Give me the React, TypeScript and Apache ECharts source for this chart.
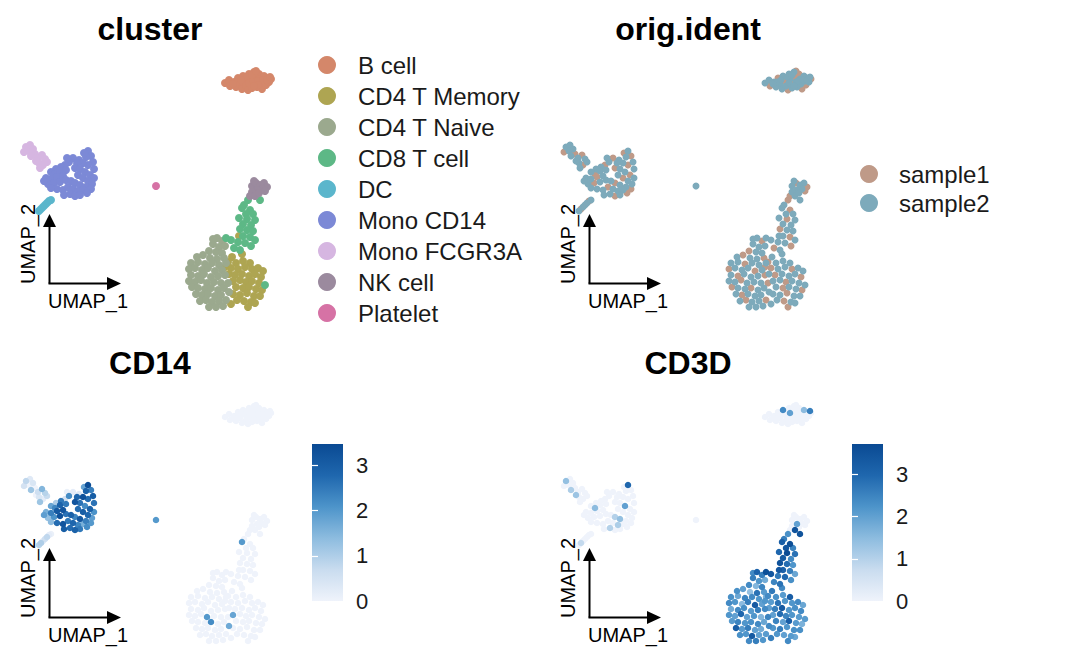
import React, { useEffect, useRef } from "react";
import * as echarts from "echarts";

// Each cell: [UMAP_1, UMAP_2, sample (1|2), CD14, CD3D]
const bCell = [
  [7.5,10.7,2,0,0],[7.9,11.0,2,0,0],[8.0,10.4,1,0,0],[8.4,10.8,2,0,0],[8.6,10.3,2,0,0],
  [8.8,11.2,1,0,0],[9.0,10.6,2,0,0],[9.2,10.1,2,0,0],[9.3,11.4,2,0,2.4],[9.5,10.9,1,0,0],
  [9.6,10.4,2,0,0],[9.8,10.0,1,0,0],[9.9,11.6,2,0,0],[10.0,11.1,2,0,2.0],[10.1,10.6,1,0,0],
  [10.2,10.2,2,0,0],[10.4,11.8,2,0,0],[10.5,11.3,1,0,0],[10.6,10.8,2,0,0],[10.7,10.3,2,0,0],
  [10.9,11.6,1,0,0],[11.0,11.1,2,0,0],[11.1,10.6,2,0,0],[11.2,10.1,1,0,0],[11.4,11.4,2,0,1.5],
  [11.5,10.9,2,0,0],[11.6,10.5,1,0,0],[11.8,11.2,2,0,0],[11.9,10.8,2,0,0],[12.1,11.1,1,0,0],
  [8.7,10.8,2,0,0],[9.4,11.0,1,0,0],[9.7,11.3,2,0,0],[9.9,10.7,2,0,0],[10.3,11.0,1,0,0],
  [10.8,10.9,2,0,0],[11.3,11.0,2,0,0],[10.2,11.5,2,0,0],[10.6,11.9,1,0,0],[9.1,11.0,2,0,0],
  [8.3,10.6,2,0,0],[10.8,10.5,1,0,0],[11.7,11.0,2,0,0],[10.4,10.4,2,0,0],[12.0,11.3,2,0,2.6],
];
const cd4Memory = [
  [8.2,-6.7,2,0,2.7],[7.8,-7.2,1,0,2.4],[8.6,-7.3,2,0,2.3],[9.3,-7.1,2,0,2.1],[10.0,-7.3,2,0,3.2],
  [8.1,-7.8,1,0,2.1],[8.8,-7.9,2,0,2.8],[9.5,-7.7,2,0,2.2],[10.2,-7.9,1,0,2.2],[10.8,-7.8,2,0,2.4],
  [11.3,-8.1,2,0,1.9],[7.9,-8.4,2,0,2.0],[8.5,-8.5,1,0,2.6],[9.2,-8.4,2,0,3.3],[9.9,-8.6,2,0,2.2],
  [10.5,-8.4,2,0,2.3],[11.1,-8.7,1,0,2.4],[8.3,-9.1,2,1.8,2.0],[9.0,-9.0,2,0,2.9],[9.6,-9.2,1,0,2.5],
  [10.2,-9.1,2,0,2.2],[10.9,-9.3,2,0,2.1],[8.6,-9.7,2,0,2.5],[9.3,-9.8,1,0,2.0],[9.9,-9.7,2,0,3.2],
  [10.6,-9.9,2,0,2.1],[11.2,-10.0,1,0,1.7],[8.3,-10.4,2,0,2.2],[9.0,-10.5,2,0,2.6],[9.7,-10.3,1,0,2.2],
  [10.4,-10.6,2,0,2.3],[11.0,-10.6,2,0,2.3],[8.7,-11.0,2,0,2.2],[9.4,-11.1,1,0,2.0],[10.1,-11.2,2,0,2.1],
  [8.1,-11.4,2,0,2.6],[9.8,-11.7,1,0,2.4],[10.5,-11.3,2,0,1.9],[8.9,-4.6,2,0,3.4],[9.2,-6.4,2,0,2.4],
  [7.5,-7.7,1,0,2.2],
];
const cd4Naive = [
  [6.7,-4.8,2,0,3.1],[7.2,-5.1,1,0,2.6],[6.3,-5.4,2,0,2.6],[6.9,-5.7,2,0,2.2],[7.5,-5.6,2,0,1.8],
  [5.9,-6.1,1,0,2.4],[6.6,-6.2,2,0,1.6],[7.2,-6.3,2,0,2.5],[4.7,-6.7,2,0,2.3],[5.3,-6.5,1,0,2.0],
  [6.0,-6.8,2,0,1.4],[6.7,-6.9,2,0,2.8],[7.4,-6.8,1,0,2.1],[4.1,-7.3,2,0,2.3],[4.8,-7.2,2,0,1.9],
  [5.5,-7.4,1,0,2.5],[6.2,-7.3,2,0,2.4],[6.9,-7.5,2,0,2.2],[7.6,-7.3,2,0,1.7],[3.9,-7.9,1,0,2.4],
  [4.5,-7.8,2,0,2.2],[5.2,-8.0,2,0,1.5],[5.8,-7.8,2,0,2.6],[6.5,-8.1,1,0,3.3],[7.2,-8.0,2,0,2.0],
  [4.1,-8.5,2,0,1.8],[4.8,-8.6,1,0,2.4],[5.4,-8.4,2,0,2.3],[6.1,-8.7,2,0,2.1],[6.8,-8.6,2,0,2.6],
  [7.5,-8.5,1,0,2.4],[3.9,-9.1,2,0,2.2],[4.5,-9.2,2,0,2.0],[5.1,-9.0,1,0,3.0],[5.7,-9.3,2,2.0,2.0],
  [6.4,-9.2,2,0,2.2],[7.1,-9.3,2,0,1.6],[4.2,-9.7,1,0,2.1],[4.8,-9.8,2,0,2.5],[5.5,-9.9,2,0,2.2],
  [6.1,-9.8,1,2.2,2.3],[6.8,-10.0,2,0,2.4],[7.4,-9.8,2,0,1.9],[4.6,-10.4,2,0,3.2],[5.2,-10.5,1,0,2.1],
  [5.8,-10.4,2,0,2.6],[6.5,-10.6,2,0,2.0],[7.1,-10.5,2,0,1.8],[5.0,-11.1,2,0,2.3],[5.6,-11.0,1,0,2.2],
  [6.2,-11.2,2,0,3.3],[6.9,-11.1,2,0,2.0],[7.6,-11.0,1,0,2.1],[5.9,-11.7,2,0,2.4],[6.6,-11.7,2,0,2.6],
  [7.3,-11.6,2,0,2.2],[6.3,-4.9,2,0,2.4],[7.8,-9.3,1,0,2.5],[7.9,-10.2,2,1.7,2.4],
];
const cd8T = [
  [9.8,-1.0,1,0,2.3],[11.0,-1.0,2,0,3.5],[9.4,-1.5,2,0,2.6],[9.2,-1.8,2,2.0,3.2],[10.0,-2.0,1,0,3.6],
  [9.6,-2.4,2,0,3.4],[10.3,-2.4,2,0,2.5],[8.9,-2.8,2,0,3.0],[9.7,-2.9,1,0,3.7],[10.5,-3.0,2,0,2.8],
  [9.3,-3.4,2,0,3.3],[10.1,-3.5,2,0,2.4],[9.0,-3.9,1,0,3.5],[9.7,-4.0,2,0,2.9],[10.3,-4.1,2,0,2.2],
  [9.3,-4.6,2,0,3.1],[10.0,-4.7,1,0,2.6],[10.5,-5.0,2,0,1.9],[8.8,-5.2,2,0,2.7],[9.5,-5.3,2,0,3.0],
  [10.1,-5.6,1,0,2.3],[8.1,-5.0,2,0,3.4],[7.6,-4.8,2,0,3.6],[8.4,-5.8,1,0,2.5],[11.5,-9.5,2,0,2.1],
  [9.0,-6.0,2,0,2.8],
];
const dc = [
  [-11.1,-2.1,2,0.9,0],[-10.9,-1.9,1,1.0,0.8],[-10.7,-1.7,2,0.3,0],[-10.5,-1.5,2,0.6,0],
  [-10.3,-1.3,2,0.8,0],[-10.1,-1.1,1,0.2,0],[-9.9,-1.0,2,0.1,0],
];
const monoCD14 = [
  [-6.2,3.9,2,3.4,3.0],[-5.9,3.4,1,2.4,0],[-6.4,3.3,2,2.9,0],[-5.7,2.8,2,3.0,0],[-6.2,2.5,1,2.7,0],
  [-5.6,2.1,2,2.6,0],[-6.7,2.7,2,3.3,0],[-7.1,3.0,2,0.3,0],[-7.7,3.2,1,0.2,0],[-7.3,2.7,2,2.8,0],
  [-8.1,2.8,2,2.2,0],[-8.5,2.5,1,0.5,0],[-8.9,2.3,2,2.5,0],[-9.4,2.1,2,1.0,0],[-9.9,1.8,2,1.8,0],
  [-9.5,1.6,1,2.3,1.5],[-9.0,1.9,2,2.9,0],[-8.4,2.0,2,2.5,0],[-7.5,2.2,1,3.2,0],[-7.0,2.1,2,2.6,0],
  [-6.5,1.8,2,2.2,2.0],[-6.0,1.5,1,2.9,0],[-5.6,1.2,2,2.1,0],[-10.4,1.2,2,1.6,0],[-9.9,1.1,2,2.4,0],
  [-9.3,1.3,1,3.1,0],[-8.7,1.4,2,3.2,0],[-7.2,1.5,2,2.7,0],[-6.7,1.2,1,3.0,0],[-6.2,0.9,2,2.8,0],
  [-5.8,0.6,2,1.9,0],[-10.2,0.6,2,1.3,0],[-9.6,0.7,1,2.1,0],[-9.0,0.8,2,3.3,0],[-8.4,1.0,2,2.6,0],
  [-7.9,0.9,2,2.9,0],[-7.5,0.7,1,2.3,1.0],[-7.0,0.5,2,3.1,1.4],[-6.4,0.3,2,2.4,0],[-5.9,0.1,1,2.0,0],
  [-9.3,0.1,2,2.7,0],[-8.7,0.0,2,3.2,0],[-8.2,0.3,1,2.5,0],[-7.7,0.1,2,2.8,0],[-7.2,-0.1,2,2.3,1.1],
  [-6.7,0.0,2,1.6,0],[-6.3,-0.3,1,2.2,0],[-8.6,-0.5,2,3.0,0],[-8.0,-0.4,2,2.7,1.0],[-7.5,-0.6,1,2.9,0],
  [-7.0,-0.5,2,2.5,0],[-10.6,0.9,2,1.9,0],[-9.9,0.2,2,1.4,0],[-8.3,3.2,2,0.1,0],[-6.6,3.7,1,1.8,0],
];
const monoFCGR3A = [
  [-12.4,4.3,2,0.8,1.4],[-12.0,4.5,2,0.3,0],[-12.6,3.8,1,0.5,0],[-12.1,3.9,2,0,0],[-11.7,4.1,2,0.4,0],
  [-11.5,3.6,1,0,0],[-11.9,3.4,2,1.2,1.1],[-11.2,3.2,2,0.6,0],[-10.8,3.5,1,1.5,0],[-10.5,3.1,2,0.9,0],
  [-11.1,2.7,2,0.4,0],[-10.7,2.5,1,0.2,0],[-11.0,2.2,2,1.2,0],[-10.3,2.8,2,0.7,0],[-11.4,2.9,2,0,1.3],
];
const nkCell = [
  [10.2,0.4,2,0,0],[10.6,0.7,1,0,0],[11.0,0.5,2,0,0],[11.4,0.7,2,0,0],[11.7,0.3,1,0,0],
  [11.2,0.1,2,0,0],[10.7,0.0,2,0,2.0],[10.2,-0.2,2,0,0],[10.0,-0.6,1,0,0],[10.5,-0.6,2,0,3.5],
  [10.9,-0.3,2,0,0],[11.5,-0.1,1,0,0],[10.4,0.9,2,0,0],
];
const platelet = [[0.6,0.4,2,2.0,0]];

const clusterNames = ["B cell","CD4 T Memory","CD4 T Naive","CD8 T cell","DC","Mono CD14","Mono FCGR3A","NK cell","Platelet"];
const clusterCells = [bCell, cd4Memory, cd4Naive, cd8T, dc, monoCD14, monoFCGR3A, nkCell, platelet];
const clusterColors = ["#D4876A","#AEA552","#9BA98E","#5DB886","#5BB6CC","#7C89D6","#D6B6E1","#9B8A9E","#D672A5"];
const sampleNames = ["sample1","sample2"];
const sampleColors = ["#BF9A88","#7DAABB"];
const panelTitles = ["cluster","orig.ident","CD14","CD3D"];
const featureMax = [3.47, 3.72];
const colorbarTicks = [0, 1, 2, 3];
const blues = ["#EFF3FB","#C9DCEF","#8DBCDF","#4D94CA","#1F67AE","#0A4A93"];

const FONT = '"Liberation Sans", Arial, Helvetica, sans-serif';

export default function App() {
  const ref = useRef<HTMLDivElement>(null);
  useEffect(() => {
    if (!ref.current) return;
    const chart = echarts.init(ref.current, null, { renderer: "svg" });
    const offsets = [[0, 0], [540, 0], [0, 334], [540, 334]];
    const allCells: number[][] = [];
    clusterCells.forEach((c) => c.forEach((p) => allCells.push(p)));

    const grids: any[] = offsets.map(([ox, oy]) => ({ left: 15 + ox, top: 60 + oy, width: 270, height: 260 }));
    grids.push({ left: 312, top: 444, width: 31, height: 157 });
    grids.push({ left: 852, top: 444, width: 31, height: 157 });

    const xAxes: any[] = grids.map((_, i) => ({
      type: "value", gridIndex: i, show: false,
      min: i < 4 ? -13.5 : 0, max: i < 4 ? 13.5 : 1,
    }));
    const yAxes: any[] = offsets.map((_, i) => ({ type: "value", gridIndex: i, show: false, min: -13, max: 13 }));
    [0, 1].forEach((k) => {
      const gi = 4 + k;
      yAxes.push({
        type: "value", gridIndex: gi, min: 0, max: featureMax[k], position: "right", z: 10,
        axisLine: { show: false }, splitLine: { show: false },
        axisTick: { show: true, inside: true, length: 6, customValues: colorbarTicks.slice(1), lineStyle: { color: "#ffffff", width: 1.2 } },
        axisLabel: { customValues: colorbarTicks, fontSize: 22, color: "#1a1a1a", margin: 13, fontFamily: FONT },
      });
      yAxes.push({
        type: "value", gridIndex: gi, min: 0, max: featureMax[k], position: "left", z: 10,
        axisLine: { show: false }, splitLine: { show: false }, axisLabel: { show: false },
        axisTick: { show: true, inside: true, length: 6, customValues: colorbarTicks.slice(1), lineStyle: { color: "#ffffff", width: 1.2 } },
      });
    });

    const series: any[] = [];
    clusterNames.forEach((name, ci) => {
      series.push({
        type: "scatter", name, xAxisIndex: 0, yAxisIndex: 0, symbolSize: 8,
        itemStyle: { color: clusterColors[ci], opacity: 1 },
        data: clusterCells[ci].map((p) => [p[0], p[1]]),
      });
    });
    sampleNames.forEach((name, si) => {
      series.push({
        type: "scatter", name, xAxisIndex: 1, yAxisIndex: 1, symbolSize: 7,
        itemStyle: { color: sampleColors[si], opacity: 1 },
        data: allCells.filter((p) => p[2] === si + 1).map((p) => [p[0], p[1]]),
      });
    });
    [3, 4].forEach((col, k) => {
      const sorted = allCells.slice().sort((a, b) => a[col] - b[col]);
      series.push({
        type: "scatter", name: panelTitles[2 + k], xAxisIndex: 2 + k, yAxisIndex: 2 + k, symbolSize: 6.5,
        itemStyle: { opacity: 1 },
        data: sorted.map((p) => [p[0], p[1], p[col]]),
      });
    });
    const nFeatStart = clusterNames.length + sampleNames.length;

    const visualMap = [0, 1].map((k) => ({
      type: "continuous", show: false, seriesIndex: nFeatStart + k, dimension: 2,
      min: 0, max: featureMax[k], inRange: { color: blues },
    }));

    const graphics: any[] = [];
    const titleCenters = [150, 688, 150, 688];
    offsets.forEach(([ox, oy], i) => {
      graphics.push({
        type: "text", x: titleCenters[i], y: 29 + oy,
        style: { text: panelTitles[i], font: `bold 32px ${FONT}`, fill: "#000", align: "center", verticalAlign: "middle" },
      });
      graphics.push({ type: "line", shape: { x1: 49.5 + ox, y1: 283.5 + oy, x2: 49.5 + ox, y2: 224 + oy }, style: { stroke: "#000", lineWidth: 2 } });
      graphics.push({ type: "polygon", shape: { points: [[49.5 + ox, 214 + oy], [43 + ox, 227 + oy], [56 + ox, 227 + oy]] }, style: { fill: "#000" } });
      graphics.push({ type: "line", shape: { x1: 48.5 + ox, y1: 283.5 + oy, x2: 110 + ox, y2: 283.5 + oy }, style: { stroke: "#000", lineWidth: 2 } });
      graphics.push({ type: "polygon", shape: { points: [[121 + ox, 283.5 + oy], [107 + ox, 277 + oy], [107 + ox, 290 + oy]] }, style: { fill: "#000" } });
      graphics.push({
        type: "text", x: 88 + ox, y: 301 + oy,
        style: { text: "UMAP_1", font: `20px ${FONT}`, fill: "#000", align: "center", verticalAlign: "middle" },
      });
      graphics.push({
        type: "text", x: 28 + ox, y: 244 + oy, rotation: Math.PI / 2,
        style: { text: "UMAP_2", font: `20px ${FONT}`, fill: "#000", align: "center", verticalAlign: "middle" },
      });
    });
    const stops = blues.slice().reverse().map((c, i, arr) => ({ offset: i / (arr.length - 1), color: c }));
    [[312, 444], [852, 444]].forEach(([x, y]) => {
      graphics.push({
        type: "rect", z: 0, shape: { x, y, width: 31, height: 157 },
        style: { fill: new echarts.graphic.LinearGradient(0, 0, 0, 1, stops) },
      });
    });

    chart.setOption({
      animation: false,
      backgroundColor: "#ffffff",
      textStyle: { fontFamily: FONT },
      grid: grids,
      xAxis: xAxes,
      yAxis: yAxes,
      legend: [
        {
          data: clusterNames, orient: "vertical", left: 318, top: 53, padding: 0,
          itemWidth: 52, itemHeight: 18, itemGap: 7, icon: "circle", selectedMode: false,
          textStyle: { fontSize: 24, lineHeight: 24, color: "#1a1a1a", fontFamily: FONT },
        },
        {
          data: sampleNames, orient: "vertical", left: 860, top: 162, padding: 0,
          itemWidth: 50, itemHeight: 18, itemGap: 5, icon: "circle", selectedMode: false,
          textStyle: { fontSize: 24, lineHeight: 24, color: "#1a1a1a", fontFamily: FONT },
        },
      ],
      visualMap,
      graphic: graphics,
      series,
    });
    return () => chart.dispose();
  }, []);
  return <div ref={ref} style={{ position: "absolute", left: 0, top: 0, width: 1080, height: 667 }} />;
}
